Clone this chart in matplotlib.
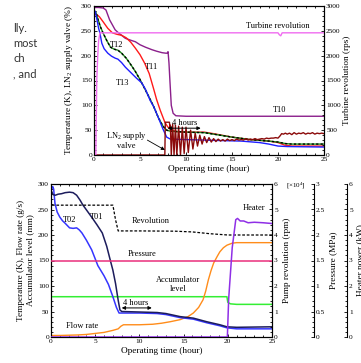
import matplotlib
matplotlib.use('Agg')
import matplotlib.pyplot as plt
from matplotlib.ticker import MultipleLocator

plt.rcParams['font.family'] = ['Liberation Serif', 'DejaVu Serif']
plt.rcParams['mathtext.fontset'] = 'custom'
plt.rcParams['mathtext.rm'] = 'Liberation Serif'
plt.rcParams['mathtext.it'] = 'Liberation Serif:italic'

# ---------------- top chart data ----------------
t10_t = [0, 0.5, 1.0, 1.3, 1.7, 2.0, 2.3, 2.6, 3.0, 3.4, 4.0, 4.5, 5.0, 5.6, 6.3, 6.8, 7.4, 7.8,
         7.95, 8.05, 8.15, 8.25, 8.4, 8.6, 8.9, 10, 15, 20, 25]
t10_v = [297, 297, 296, 292, 272, 262, 252, 247, 241, 235, 231, 228, 222, 217, 212, 209, 206, 205,
         205, 208, 185, 150, 100, 84, 79, 78, 78, 78, 78]

t11_t = [0, 0.3, 0.6, 1.0, 1.5, 2.0, 2.5, 3.0, 3.5, 4.0, 4.5, 5.0, 5.5, 6.0, 6.5, 6.8, 7.2, 7.7,
         8.0, 8.4, 9, 10, 12, 13, 15, 17, 19, 20, 20.7, 21.5, 25]
t11_v = [283, 283, 278, 268, 255, 246, 243, 241, 236, 227, 215, 202, 185, 164, 132, 112, 90, 66,
         57, 50, 47, 46, 46, 43, 36, 31, 28, 25, 20, 18, 18]

t12_t = [0.0, 0.2, 0.4, 0.7, 1.0, 1.4, 1.8, 2.2, 2.6, 3.0, 3.5, 4.0, 4.5, 5.0, 5.5, 6.0, 6.5, 7.0,
         7.5, 7.9, 8.3, 10, 12, 13, 15, 17, 19, 20, 20.8, 21.5, 25]
t12_v = [290, 288, 275, 258, 245, 230, 217, 213, 211, 205, 195, 182, 168, 152, 134, 116, 97, 75,
         58, 50, 48, 46, 45, 42, 36, 31, 28, 26, 23, 22, 22]

t13_t = [0, 0.15, 0.35, 0.5, 0.65, 0.85, 1.1, 1.5, 1.9, 2.3, 2.6, 3.0, 3.4, 4.0, 4.6, 5.2, 5.6,
         6.1, 6.5, 7.0, 7.5, 7.9, 8.3, 10, 12, 14, 16, 18, 19, 20, 21, 25]
t13_v = [292, 288, 270, 255, 245, 225, 214, 205, 199, 195, 193, 186, 177, 166, 155, 145, 132,
         110, 97, 75, 52, 36, 32, 31, 30, 29, 28, 25, 22, 18, 17, 16]

turb_t = [0, 0.2, 0.3, 0.4, 0.5, 0.65, 20.0, 20.15, 20.3, 20.45, 25]
turb_v = [0, 0, 1500, 1970, 2300, 2460, 2460, 2420, 2400, 2460, 2460]

valve_t = [0, 7.7, 7.75, 8.2, 8.25, 8.3,
           8.4, 8.55, 8.7, 8.85, 9.0,
           9.2, 9.4, 9.6, 9.8, 10.0,
           10.25, 10.5, 10.75, 11.0,
           11.25, 11.5, 11.75, 12.0,
           12.25, 12.5, 12.75, 13.0,
           13.25, 13.5, 13.75, 14.0,
           14.25, 14.5, 14.75, 15.0,
           15.25, 15.5, 15.75, 16.0,
           16.25, 16.5, 16.75, 17.0,
           17.25, 17.5, 17.75, 18.0,
           18.25, 18.5, 18.75, 19.0,
           19.25, 19.5, 19.75, 20.0,
           20.2, 20.4, 20.6, 20.8, 21.0,
           21.25, 21.5, 21.75, 22.0,
           22.25, 22.5, 22.75, 23.0,
           23.25, 23.5, 23.75, 24.0,
           24.25, 24.5, 24.75, 25.0]
valve_v = [0, 0, 66, 66, 55, 60,
           0, 62, 0, 60, 0,
           58, 0, 56, 3, 56,
           5, 50, 12, 44,
           18, 40, 22, 37,
           25, 35, 26, 33,
           27, 32, 28, 31,
           28, 32, 29, 31,
           29, 32, 30, 31,
           30, 33, 30, 32,
           31, 33, 31, 32,
           33, 32, 34, 33,
           34, 34, 35, 34,
           38, 43, 42, 44, 42,
           44, 41, 45, 42,
           44, 43, 45, 42,
           44, 43, 45, 42,
           44, 43, 44, 43]

# ---------------- bottom chart data ----------------
t01_t = [0, 0.1, 0.25, 0.5, 0.8, 1.2, 1.6, 2.1, 2.5, 2.9, 3.3, 3.6, 4.1, 4.6, 5.2, 5.8, 6.3, 6.7,
         7.0, 7.3, 7.6, 7.8, 8.0, 10, 12, 13, 14.6, 16.1, 17.6, 19.1, 19.9, 21, 25]
t01_v = [288, 284, 279, 278, 280, 281, 283, 284, 283, 278, 268, 259, 247, 235, 220, 204, 178, 151,
         131, 105, 72, 53, 50, 49, 48, 46, 40, 37, 30, 24, 20, 19, 20]

t02_t = [0, 0.1, 0.2, 0.3, 0.45, 0.7, 1.0, 1.3, 1.6, 2.1, 2.5, 2.9, 3.2, 3.5, 4.0, 4.6, 5.3, 6.0,
         6.5, 7.0, 7.4, 7.7, 8.0, 10, 12, 13, 14.6, 16.1, 17.6, 19.1, 19.9, 21, 25]
t02_v = [285, 293, 295, 290, 262, 245, 235, 228, 223, 214, 213, 214, 210, 204, 190, 171, 140, 120,
         103, 79, 58, 47, 47, 47, 46, 44, 38, 35, 28, 22, 18, 16, 16]

rev_t = [0.1, 7.0, 7.3, 7.6, 10, 14, 16, 18, 20, 25]
rev_v = [5.17, 5.17, 4.6, 4.16, 4.16, 4.15, 4.12, 4.05, 4.0, 4.0]  # x10^4 rpm

pres_t = [0, 25]
pres_v = [1.5, 1.5]  # MPa

acc_t = [0, 19.9, 20.0, 20.3, 21, 25]
acc_v = [79, 79, 68, 65, 64, 64]  # mm

flow_t = [0, 1, 3, 4, 5, 6, 7, 7.6, 7.9, 8.2, 10, 11.5, 12.5, 13.5, 14.6, 15.5, 16.1, 16.7, 17.2,
          17.5, 17.8, 18.1, 18.4, 18.8, 19.1, 19.5, 19.9, 20.5, 21, 25]
flow_v = [3, 3, 4, 5, 7, 9, 13, 16, 21, 24, 24, 25, 27, 30, 34, 40, 47, 58, 73,
          90, 112, 130, 145, 158, 167, 175, 180, 184, 185, 185]

heat_t = [0, 19.95, 20.1, 20.5, 20.9, 21.1, 21.4, 21.8, 22.3, 23, 24, 25]
heat_v = [0, 0, 1.5, 3.5, 4.6, 4.65, 4.55, 4.55, 4.48, 4.5, 4.48, 4.45]

xticks = [0, 5, 10, 15, 20, 25]

TICK = 5.3
LAB = 6.7
ANN = 6.0

fig = plt.figure(figsize=(3.61, 3.63), dpi=100)
fig.patch.set_facecolor('white')


def style(ax, right=True):
    ax.tick_params(which='both', direction='in', labelsize=TICK, pad=1.5,
                   top=True, right=right, width=0.6)
    ax.tick_params(which='major', length=2.5)
    ax.tick_params(which='minor', length=1.3)
    for s in ax.spines.values():
        s.set_linewidth(0.8)


# ---------------- top chart ----------------
ax1 = fig.add_axes([94 / 361, 1 - 155 / 363, 230 / 361, 149 / 363])
ax1.plot(t10_t, t10_v, color='#8b1f8b', lw=1.0)
ax1.plot(t11_t, t11_v, color='#ff1a1a', lw=1.0)
ax1.plot(t12_t, t12_v, color='#1e8c1e', lw=1.0)
ax1.plot(t12_t, t12_v, color='black', lw=1.0, dashes=(1.6, 1.6))
ax1.plot(t13_t, t13_v, color='#1f1fff', lw=1.0)
ax1.plot(valve_t, valve_v, color='#8b0a0a', lw=1.0)
ax1.set_xlim(0, 25)
ax1.set_ylim(0, 300)
ax1.set_xticks(xticks)
ax1.set_yticks(range(0, 301, 50))
ax1.xaxis.set_minor_locator(MultipleLocator(1))
ax1.yaxis.set_minor_locator(MultipleLocator(10))
style(ax1, right=False)
ax1.set_xlabel('Operating time (hour)', fontsize=LAB, labelpad=2)
ax1.set_ylabel('Temperature (K), LN$_2$ supply valve (%)', fontsize=LAB, labelpad=4)

ax1r = ax1.twinx()
ax1r.plot(turb_t, turb_v, color='#f06cf0', lw=1.0)
ax1r.set_ylim(0, 3000)
ax1r.set_yticks(range(0, 3001, 500))
ax1r.yaxis.set_minor_locator(MultipleLocator(100))
ax1r.tick_params(which='both', direction='in', labelsize=TICK, pad=1.5, width=0.6)
ax1r.tick_params(which='major', length=2.5)
ax1r.tick_params(which='minor', length=1.3)
ax1r.set_ylabel('Turbine revolution (rps)', fontsize=LAB, labelpad=2)

ax1.text(2.4, 222, 'T12', fontsize=ANN, ha='center', va='center')
ax1.text(6.3, 177, 'T11', fontsize=ANN, ha='center', va='center')
ax1.text(3.1, 145, 'T13', fontsize=ANN, ha='center', va='center')
ax1.text(20.2, 91, 'T10', fontsize=ANN, ha='center', va='center')
ax1.text(20.0, 260, 'Turbine revolution', fontsize=ANN, ha='center', va='center')
ax1.text(9.9, 64, '4 hours', fontsize=ANN, ha='center', va='center')
ax1.annotate('', xy=(8.0, 54), xytext=(11.6, 54),
             arrowprops=dict(arrowstyle='<|-|>', color='black', lw=0.7,
                             mutation_scale=5, shrinkA=0, shrinkB=0))
ax1.text(3.5, 30, 'LN$_2$ supply\nvalve', fontsize=ANN, ha='center', va='center',
         linespacing=1.1)
ax1.annotate('', xy=(7.7, 10), xytext=(5.8, 30),
             arrowprops=dict(arrowstyle='-|>', color='black', lw=0.6,
                             mutation_scale=5, shrinkA=0, shrinkB=0))

# ---------------- bottom chart ----------------
ax2 = fig.add_axes([51 / 361, 1 - 337 / 363, 221 / 361, 153 / 363])
ax2.plot(acc_t, acc_v, color='#33ee33', lw=1.1)
ax2.plot(flow_t, flow_v, color='#ff8c1a', lw=1.0)
ax2.plot(t02_t, t02_v, color='#3535ff', lw=1.1)
ax2.plot(t01_t, t01_v, color='#1c1c5c', lw=1.1)
ax2.set_xlim(0, 25)
ax2.set_ylim(0, 300)
ax2.set_xticks(xticks)
ax2.set_yticks(range(0, 301, 50))
ax2.xaxis.set_minor_locator(MultipleLocator(1))
ax2.yaxis.set_minor_locator(MultipleLocator(10))
style(ax2, right=False)
ax2.set_xlabel('Operating time (hour)', fontsize=LAB, labelpad=2)
ax2.set_ylabel('Temperature (K), Flow rate (g/s)\nAccumulator level (mm)', fontsize=LAB,
               labelpad=3, linespacing=1.1)

# pump revolution axis (right spine of main axes)
ax2p = ax2.twinx()
ax2p.plot(rev_t, rev_v, color='black', lw=0.9, dashes=(2.2, 1.4))
ax2p.set_ylim(0, 6)
ax2p.set_yticks(range(0, 7))
ax2p.yaxis.set_minor_locator(MultipleLocator(0.2))
ax2p.tick_params(which='both', direction='in', labelsize=TICK, pad=1.5, width=0.6)
ax2p.tick_params(which='major', length=2.5)
ax2p.tick_params(which='minor', length=1.3)
ax2p.set_ylabel('Pump revolution (rpm)', fontsize=LAB, labelpad=4)
ax2p.text(1.065, 0.985, r'[$\times$10$^4$]', transform=ax2p.transAxes, fontsize=5.0,
          ha='left', va='center')

# pressure axis
ax2q = ax2.twinx()
ax2q.spines['right'].set_position(('outward', 30))
for k in ('top', 'left', 'bottom'):
    ax2q.spines[k].set_visible(False)
ax2q.patch.set_visible(False)
ax2q.plot(pres_t, pres_v, color='#ea2f7c', lw=1.1)
ax2q.set_ylim(0, 3)
ax2q.set_yticks([0, 0.5, 1, 1.5, 2, 2.5, 3])
ax2q.set_yticklabels(['0', '0.5', '1', '1.5', '2', '2.5', '3'])
ax2q.yaxis.set_minor_locator(MultipleLocator(0.1))
ax2q.tick_params(which='both', direction='in', labelsize=TICK, pad=1.5, width=0.6)
ax2q.tick_params(which='major', length=2.5)
ax2q.tick_params(which='minor', length=1.3)
ax2q.spines['right'].set_linewidth(0.8)
ax2q.set_ylabel('Pressure (MPa)', fontsize=LAB, labelpad=3)

# heater axis
ax2h = ax2.twinx()
ax2h.spines['right'].set_position(('outward', 54))
for k in ('top', 'left', 'bottom'):
    ax2h.spines[k].set_visible(False)
ax2h.patch.set_visible(False)
ax2h.plot(heat_t, heat_v, color='#8f2fe6', lw=1.1)
ax2h.set_ylim(0, 6)
ax2h.set_yticks(range(0, 7))
ax2h.yaxis.set_minor_locator(MultipleLocator(0.2))
ax2h.tick_params(which='both', direction='in', labelsize=TICK, pad=1.5, width=0.6)
ax2h.tick_params(which='major', length=2.5)
ax2h.tick_params(which='minor', length=1.3)
ax2h.spines['right'].set_linewidth(0.8)
ax2h.set_ylabel('Heater power (kW)', fontsize=LAB, labelpad=3)

ax2.text(2.1, 229, 'T02', fontsize=ANN, ha='center', va='center')
ax2.text(5.2, 235, 'T01', fontsize=ANN, ha='center', va='center')
ax2.text(11.3, 227, 'Revolution', fontsize=ANN, ha='center', va='center')
ax2.text(10.3, 163, 'Pressure', fontsize=ANN, ha='center', va='center')
ax2.text(14.4, 103, 'Accumulator\nlevel', fontsize=ANN, ha='center', va='center',
         linespacing=1.3)
ax2.text(3.5, 21, 'Flow rate', fontsize=ANN, ha='center', va='center')
ax2.text(23.0, 253, 'Heater', fontsize=ANN, ha='center', va='center')
ax2.text(9.6, 67, '4 hours', fontsize=ANN, ha='center', va='center')
ax2.annotate('', xy=(8.0, 57), xytext=(11.4, 57),
             arrowprops=dict(arrowstyle='<|-|>', color='black', lw=0.7,
                             mutation_scale=5, shrinkA=0, shrinkB=0))

# ---------------- slide text fragments ----------------
slide_lines = ['lly.', 'most', 'ch', ', and']
for i, s in enumerate(slide_lines):
    fig.text(13 / 361, 1 - (32 + 15 * i) / 363, s, fontsize=8, color='#333333',
             family=['Lato', 'DejaVu Sans'], ha='left', va='baseline')

fig.savefig('out.png', dpi=100, facecolor='white')
